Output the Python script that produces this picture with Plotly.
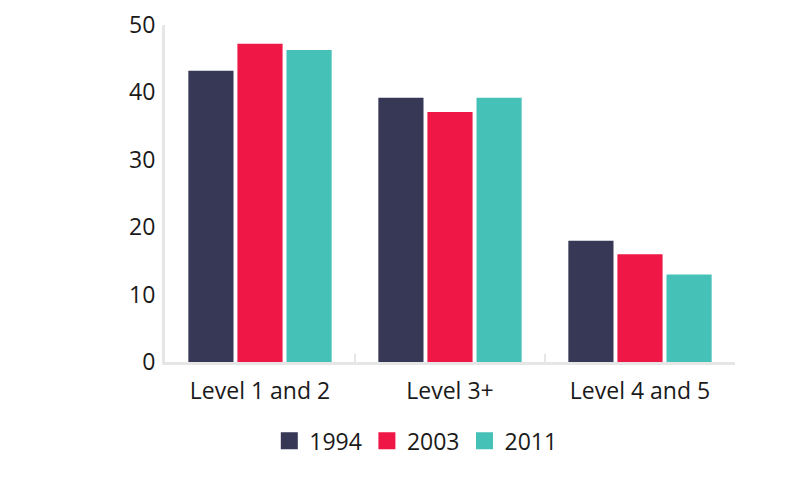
import plotly.graph_objects as go

categories = ["Level 1 and 2", "Level 3+", "Level 4 and 5"]
years = ["1994", "2003", "2011"]
values_1994 = [43.2, 39.2, 18.0]
values_2003 = [47.2, 37.1, 16.0]
values_2011 = [46.3, 39.2, 13.0]
colors = ["#373856", "#EF1745", "#45C1B8"]
y_ticks = [0, 10, 20, 30, 40, 50]

fig = go.Figure()
for name, vals, col in zip(years, [values_1994, values_2003, values_2011], colors):
    fig.add_trace(go.Bar(name=name, x=categories, y=vals, showlegend=False, offsetgroup=name,
                         marker=dict(color=col, line=dict(width=0))))
# legend entries with larger swatches (share the offset group, no extra slots)
for name, col in zip(years, colors):
    fig.add_trace(go.Bar(name=name, x=[None], y=[None], offsetgroup=name,
                         marker=dict(color=col, line=dict(color=col, width=8))))

font = "Open Sans, Noto Sans, sans-serif"
fig.update_layout(
    width=800, height=481,
    margin=dict(l=157, r=73, t=17, b=127, autoexpand=False),
    plot_bgcolor="white", paper_bgcolor="white",
    barmode="group", bargap=0.225, bargroupgap=0.08,
    font=dict(family=font, size=20, color="#1a1a1a"),
    showlegend=True,
    legend=dict(orientation="h", x=0.44, xanchor="center", y=-0.17, yanchor="top",
                font=dict(size=23), traceorder="normal"),
    xaxis=dict(showline=True, linecolor="#e6e6e6", linewidth=3, ticks="inside",
               tickson="boundaries", ticklen=8, tickwidth=2, tickcolor="#e6e6e6",
               showgrid=False, tickfont=dict(size=23), ticklabelstandoff=6, automargin=False),
    yaxis=dict(range=[0, 50], tickvals=y_ticks, showline=True, linecolor="#e6e6e6",
               linewidth=3, showgrid=False, zeroline=False, ticks="",
               tickfont=dict(size=23), ticklabelstandoff=2, ticklabeloverflow="allow",
               automargin=False),
)
fig.write_html("out.html")
